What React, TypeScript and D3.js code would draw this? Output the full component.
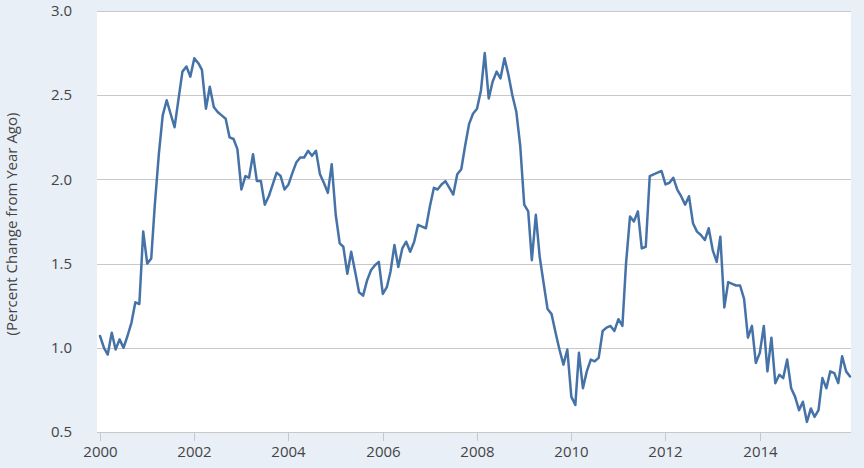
import React from 'react';
import * as d3 from 'd3';

const startYear = 2000;
// Monthly values, Jan 2000 .. Dec 2015 (percent change from year ago)
const values: number[] = [
  1.07, 1.00, 0.96, 1.09, 0.99, 1.05, 1.00, 1.07, 1.15, 1.27, 1.26, 1.69,
  1.50, 1.53, 1.85, 2.15, 2.38, 2.47, 2.39, 2.31, 2.48, 2.64, 2.67, 2.61,
  2.72, 2.69, 2.65, 2.42, 2.55, 2.43, 2.40, 2.38, 2.36, 2.25, 2.24, 2.18,
  1.94, 2.02, 2.01, 2.15, 1.99, 1.99, 1.85, 1.90, 1.97, 2.04, 2.02, 1.94,
  1.97, 2.04, 2.10, 2.13, 2.13, 2.17, 2.14, 2.17, 2.03, 1.98, 1.92, 2.09,
  1.79, 1.62, 1.60, 1.44, 1.57, 1.45, 1.33, 1.31, 1.40, 1.46, 1.49, 1.51,
  1.32, 1.36, 1.45, 1.61, 1.48, 1.59, 1.63, 1.57, 1.63, 1.73, 1.72, 1.71,
  1.84, 1.95, 1.94, 1.97, 1.99, 1.95, 1.91, 2.03, 2.06, 2.20, 2.33, 2.39,
  2.42, 2.53, 2.75, 2.48, 2.58, 2.64, 2.60, 2.72, 2.62, 2.50, 2.40, 2.20,
  1.85, 1.81, 1.52, 1.79, 1.54, 1.38, 1.23, 1.20, 1.09, 0.99, 0.90, 0.99,
  0.71, 0.66, 0.97, 0.76, 0.86, 0.93, 0.92, 0.94, 1.10, 1.12, 1.13, 1.10,
  1.17, 1.13, 1.50, 1.78, 1.75, 1.81, 1.59, 1.60, 2.02, 2.03, 2.04, 2.05,
  1.97, 1.98, 2.01, 1.94, 1.90, 1.85, 1.90, 1.74, 1.69, 1.67, 1.64, 1.71,
  1.58, 1.51, 1.66, 1.24, 1.39, 1.38, 1.37, 1.37, 1.29, 1.06, 1.13, 0.91,
  0.97, 1.13, 0.86, 1.06, 0.79, 0.84, 0.82, 0.93, 0.76, 0.71, 0.63, 0.68,
  0.56, 0.64, 0.59, 0.63, 0.82, 0.76, 0.86, 0.85, 0.79, 0.95, 0.86, 0.83,
];
const yTicks = [0.5, 1.0, 1.5, 2.0, 2.5, 3.0];
const xTickYears = [2000, 2002, 2004, 2006, 2008, 2010, 2012, 2014];
const yAxisTitle = '(Percent Change from Year Ago)';

export default function App() {
  const W = 864;
  const H = 468;
  const plotLeft = 97;
  const plotRight = 851;
  const plotTop = 11;
  const plotBottom = 432;

  const dates = values.map((_, i) => new Date(startYear, i, 1));
  const x = d3
    .scaleTime()
    .domain([dates[0], dates[dates.length - 1]])
    .range([100, 850]);
  const y = d3.scaleLinear().domain([0.5, 3.0]).range([plotBottom, plotTop]);
  const line = d3
    .line<number>()
    .x((_, i) => x(dates[i]))
    .y((d) => y(d));

  const font = '"Open Sans", "DejaVu Sans", sans-serif';
  const textColor = '#444';
  const gridColor = '#c8c8c8';

  return (
    <svg
      width={W}
      height={H}
      style={{ position: 'absolute', left: 0, top: 0, display: 'block' }}
      fontFamily={font}
    >
      <rect x={0} y={0} width={W} height={H} fill="#e8eff7" />
      <rect
        x={plotLeft}
        y={plotTop}
        width={plotRight - plotLeft}
        height={plotBottom - plotTop}
        fill="#ffffff"
      />
      {yTicks.map((t) => (
        <g key={t}>
          <line
            x1={plotLeft}
            x2={plotRight}
            y1={Math.round(y(t)) + 0.5}
            y2={Math.round(y(t)) + 0.5}
            stroke={gridColor}
            strokeWidth={1}
          />
          <text
            x={72}
            y={y(t)}
            dy="0.35em"
            textAnchor="end"
            fontSize={15}
            fill={textColor}
          >
            {d3.format('.1f')(t)}
          </text>
        </g>
      ))}
      {xTickYears.map((yr) => {
        const xp = Math.round(x(new Date(yr, 0, 1))) + 0.5;
        return (
          <g key={yr}>
            <line
              x1={xp}
              x2={xp}
              y1={plotBottom}
              y2={plotBottom + 9}
              stroke={gridColor}
              strokeWidth={1}
            />
            <text
              x={xp}
              y={457}
              textAnchor="middle"
              fontSize={15}
              fill={textColor}
            >
              {yr}
            </text>
          </g>
        );
      })}
      <path
        d={line(values) || ''}
        fill="none"
        stroke="#4572a7"
        strokeWidth={2.5}
        strokeLinejoin="round"
        strokeLinecap="round"
      />
      <text
        transform={`translate(17, ${224}) rotate(-90)`}
        textAnchor="middle"
        fontSize={15}
        fill={textColor}
      >
        {yAxisTitle}
      </text>
    </svg>
  );
}
